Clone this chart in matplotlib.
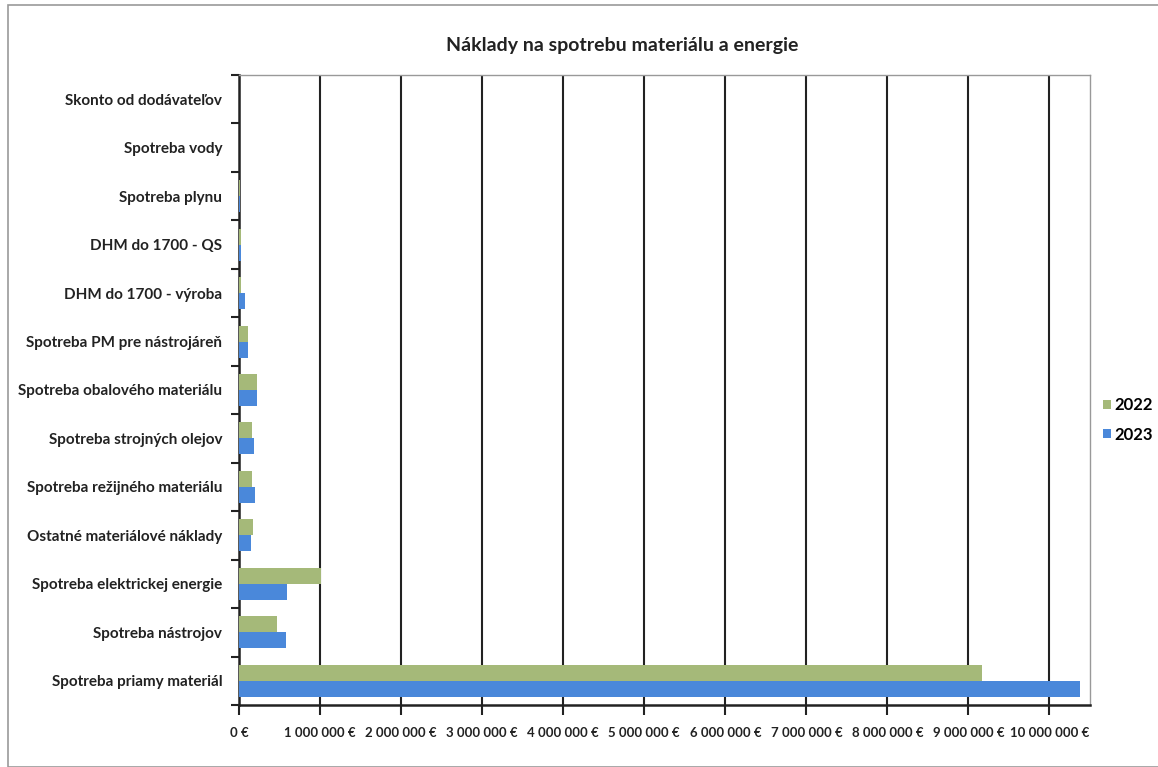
import numpy as np
import matplotlib
matplotlib.use("Agg")
from matplotlib import pyplot
from matplotlib.ticker import FuncFormatter

# categories listed bottom to top, values in EUR
categories = [
    "Spotreba priamy materiál",
    "Spotreba nástrojov",
    "Spotreba elektrickej energie",
    "Ostatné materiálové náklady",
    "Spotreba režijného materiálu",
    "Spotreba strojných olejov",
    "Spotreba obalového materiálu",
    "Spotreba PM pre nástrojáreň",
    "DHM do 1700 - výroba",
    "DHM do 1700 - QS",
    "Spotreba plynu",
    "Spotreba vody",
    "Skonto od dodávateľov",
]
values_2022 = [9170000, 470000, 1010000, 170000, 160000, 160000, 220000,
               110000, 30000, 20000, 12000, 5000, 2000]
values_2023 = [10380000, 580000, 590000, 150000, 200000, 190000, 220000,
               110000, 70000, 25000, 12000, 6000, 2000]
series_names = ["2022", "2023"]
xticks = np.arange(0, 10000001, 1000000)

pyplot.rcParams["font.family"] = ["Lato", "DejaVu Sans"]

# -----------------------------------------------------------------------------
def euro(v, pos):
    s = "{:,.0f}".format(v).replace(",", " ")
    return s + " €"

fig = pyplot.figure(figsize=(11.58, 7.67), dpi=100, facecolor="w")
ax = fig.add_axes([239 / 1158, 62 / 767, 851 / 1158, 630 / 767])

y = np.arange(len(categories))
h = 0.33
ax.barh(y + h / 2, values_2022, height=h, color="#a5b979", label=series_names[0], zorder=3)
ax.barh(y - h / 2, values_2023, height=h, color="#4a88da", label=series_names[1], zorder=3)

ax.set_xlim(0, 10500000)
ax.set_ylim(-0.5, len(categories) - 0.5)
ax.set_xticks(xticks)
ax.xaxis.set_major_formatter(FuncFormatter(euro))
ax.set_yticks(y)
ax.set_yticklabels(categories)
ax.set_yticks(np.arange(len(categories) + 1) - 0.5, minor=True)
ax.tick_params(axis="y", which="major", length=0, pad=12, labelsize=11)
ax.tick_params(axis="y", which="minor", length=6, width=1.5, color="#222222")
ax.tick_params(axis="x", length=7, width=1.5, color="#222222", labelsize=9.5, pad=9)
for lbl in ax.get_xticklabels() + ax.get_yticklabels():
    lbl.set_fontweight("bold")
    lbl.set_color("#222222")

ax.grid(axis="x", color="#222222", linewidth=1.5, zorder=1)
for side in ("left", "bottom"):
    ax.spines[side].set_linewidth(1.8)
    ax.spines[side].set_color("#222222")
for side in ("top", "right"):
    ax.spines[side].set_linewidth(1.0)
    ax.spines[side].set_color("#999999")

ax.set_title("Náklady na spotrebu materiálu a energie", fontsize=14,
             fontweight="bold", color="#222222", pad=17, x=0.45)

leg = fig.legend(loc="center left", bbox_to_anchor=(1093 / 1158, 1 - 420 / 767),
                 frameon=False, handlelength=0.5, handleheight=0.5,
                 handletextpad=0.2, labelspacing=0.8, borderpad=0.1,
                 prop={"size": 12, "weight": "bold"})

# outer chart frame
fig.add_artist(pyplot.Rectangle((8 / 1158, 0.0), 1.0, 1 - 5 / 767, transform=fig.transFigure,
                                fill=False, edgecolor="#999999", linewidth=1.2))

fig.savefig("out.png", dpi=100)
